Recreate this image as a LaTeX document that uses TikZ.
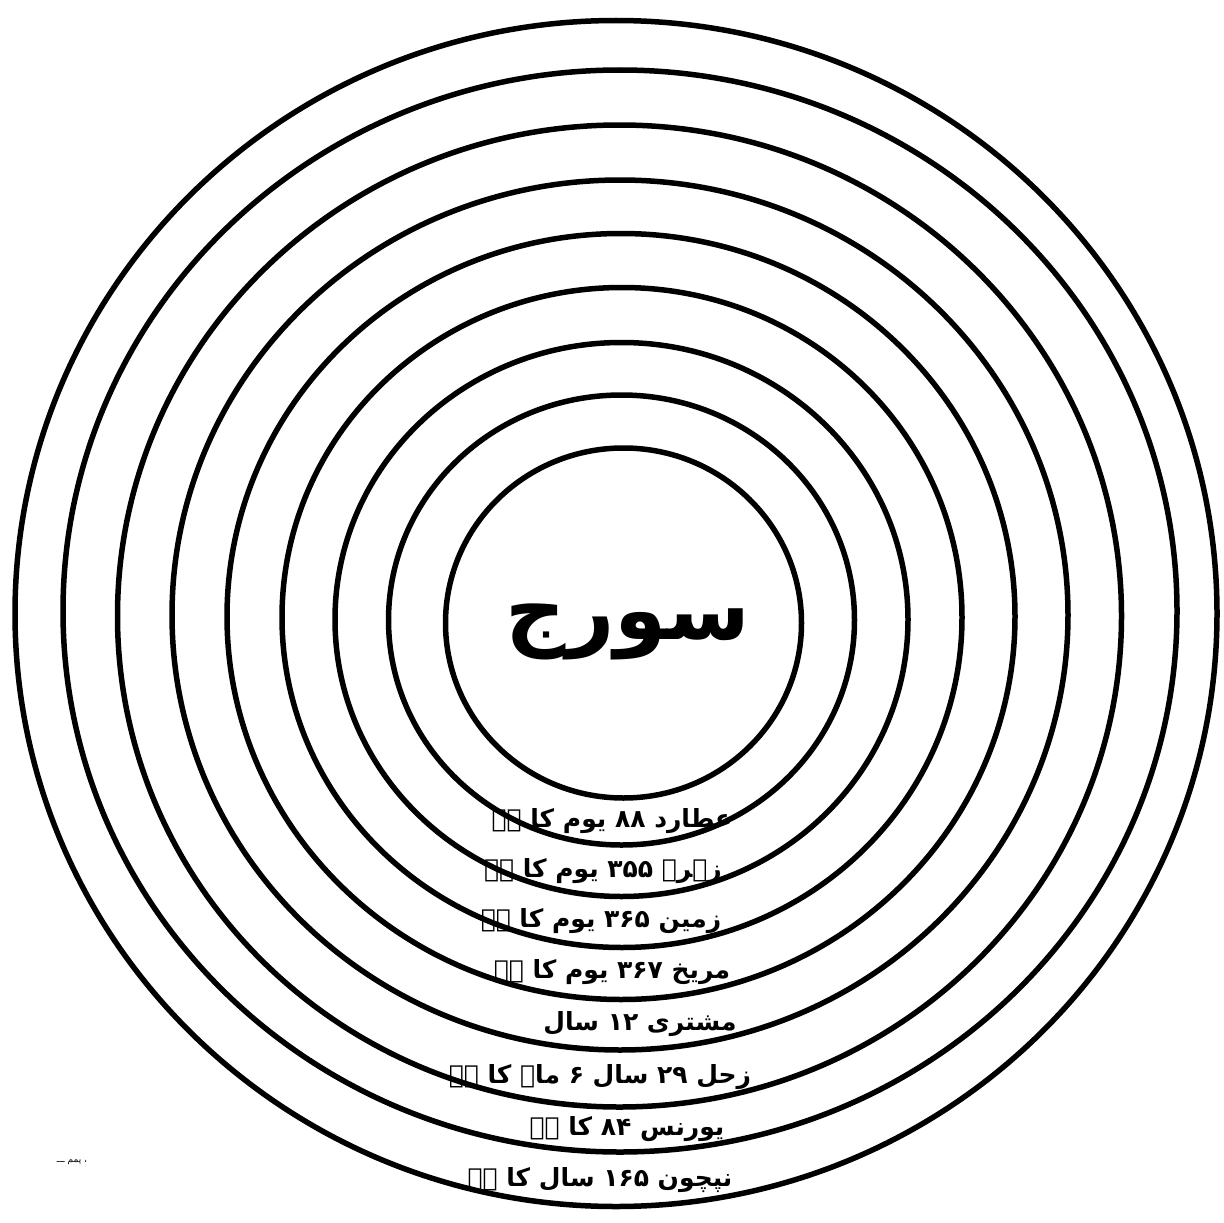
\documentclass[tikz,border=0pt]{standalone}
\usepackage{fontspec}
\TeXXeTstate=1
\newfontfamily\arabicfont[Script=Arabic]{DejaVu Sans}
\tikzset{
  orbit/.style={draw=black, line width=5.5pt},
  lbl/.style={font=\arabicfont\bfseries\fontsize{25}{28}\selectfont, inner sep=0pt, text=black},
  sunlbl/.style={font=\arabicfont\bfseries\fontsize{84}{92}\selectfont, inner sep=0pt, text=black},
  noise/.style={font=\arabicfont\fontsize{9}{10}\selectfont, inner sep=0pt, text=black}
}
\begin{document}
\begin{tikzpicture}[x=1pt,y=-1pt]
\useasboundingbox[fill=white] (0,0) rectangle (1224,1223);
% concentric orbits (slightly elliptical as in the scan)
\draw[orbit] (623.5,623) ellipse [x radius=178, y radius=175];
\draw[orbit] (621.5,620) ellipse [x radius=233, y radius=225];
\draw[orbit] (621.5,619.5) ellipse [x radius=286.5, y radius=277];
\draw[orbit] (622,617.5) ellipse [x radius=340, y radius=330];
\draw[orbit] (621,616.5) ellipse [x radius=394, y radius=383];
\draw[orbit] (620,615) ellipse [x radius=448, y radius=435];
\draw[orbit] (619.5,616) ellipse [x radius=502, y radius=491];
\draw[orbit] (620,611) ellipse [x radius=557, y radius=541];
\draw[orbit] (616,613.5) ellipse [x radius=601, y radius=593];
% sun
\node[sunlbl] (sun) at (628,632) {\beginR سورج\endR};
% planet labels
\node[lbl] (mercury) at (612,821) {\beginR عطارد \beginL۸۸\endL{} یوم کا ہے\endR};
\node[lbl] (venus) at (603,871) {\beginR زہرہ \beginL۳۵۵\endL{} یوم کا ہے\endR};
\node[lbl] (earth) at (601,921) {\beginR زمین \beginL۳۶۵\endL{} یوم کا ہے\endR};
\node[lbl] (mars) at (612,972) {\beginR مریخ \beginL۳۶۷\endL{} یوم کا ہے\endR};
\node[lbl] (jupiter) at (640,1024) {\beginR مشتری \beginL۱۲\endL{} سال\endR};
\node[lbl] (saturn) at (600,1077) {\beginR زحل \beginL۲۹\endL{} سال \beginL۶\endL{} ماہ کا ہے\endR};
\node[lbl] (uranus) at (627,1129) {\beginR یورنس \beginL۸۴\endL{} کا ہے\endR};
\node[lbl] (neptune) at (600,1180) {\beginR نپچون \beginL۱۶۵\endL{} سال کا ہے\endR};
% stray mark
\node[noise] (mark) at (72,1162) {\beginR ، پمم ـــ\endR};
\end{tikzpicture}
\end{document}
